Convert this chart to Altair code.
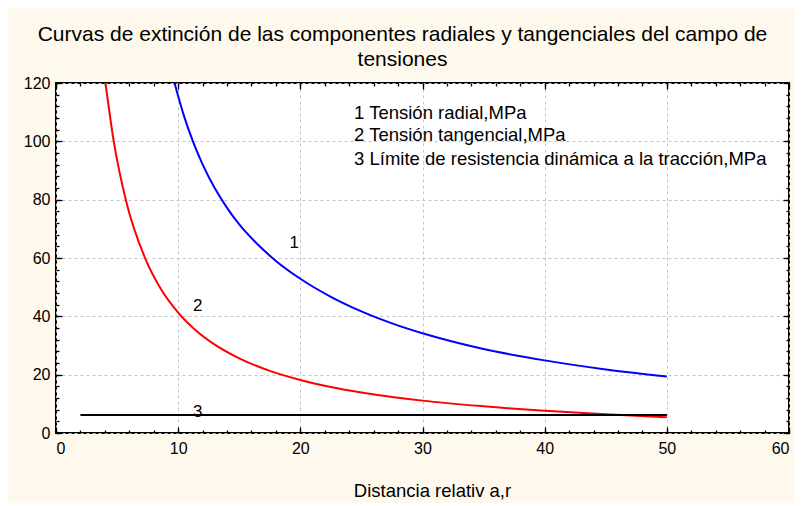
import altair as alt
import pandas as pd

# ---- data ----
blue_x = [9.7, 10.5, 11.2, 12.0, 13.0, 14.0, 15.0, 16.5, 18.0, 20.0, 22.5, 25.0, 27.5, 30.0, 35.0, 40.0, 45.0, 50.0]
blue_y = [120, 108.4, 100.1, 92.1, 83.9, 77.2, 71.5, 64.7, 59.0, 52.9, 46.7, 41.7, 37.6, 34.2, 28.8, 24.9, 21.8, 19.4]

red_x = [4.05, 4.7, 5.8, 7.3, 8.5, 10.0, 11.5, 13.0, 15.0, 17.5, 20.0, 22.5, 25.0, 30.0, 35.0, 40.0, 45.0, 50.0]
red_y = [120, 100.7, 78.5, 59.9, 50.0, 41.3, 35.0, 30.3, 25.6, 21.3, 18.2, 15.8, 13.9, 11.1, 9.15, 7.6, 6.4, 5.4]

black_x = [2, 50]
black_y = [6.2, 6.2]

series_names = ["1", "2", "3"]
series_colors = ["#0000ff", "#ff0000", "#000000"]

curve_label_text = ["1", "2", "3"]
curve_label_x = [19.5, 11.6, 11.6]
curve_label_y = [65, 43.5, 7.3]

legend_lines = [
    "1 Tensión radial,MPa",
    "2 Tensión tangencial,MPa",
    "3  Límite de resistencia dinámica a la tracción,MPa",
]
legend_x = [24.4, 24.4, 24.4]
legend_y = [109.7, 102.3, 94.1]

title_lines = [
    "Curvas de extinción de las componentes radiales y  tangenciales del campo de",
    "tensiones",
]
x_title = "Distancia relativ a,r"

major_x = list(range(0, 61, 10))
minor_x = list(range(0, 61, 2))
major_y = list(range(0, 121, 20))
minor_y = list(range(0, 121, 4))

FONT = "Liberation Sans"

# ---- tables ----
rows = []
for name, xs_, ys_ in zip(series_names, [blue_x, red_x, black_x], [blue_y, red_y, black_y]):
    for i, (a, b) in enumerate(zip(xs_, ys_)):
        rows.append({"serie": name, "r": a, "v": b, "orden": i})
df = pd.DataFrame(rows)

lab_df = pd.DataFrame({"t": curve_label_text, "r": curve_label_x, "v": curve_label_y})
leg_df = pd.DataFrame({"t": legend_lines, "r": legend_x, "v": legend_y})

xs = alt.Scale(domain=[0, 60], nice=False, zero=False)
ys = alt.Scale(domain=[0, 120], nice=False, zero=False)

base = alt.Chart(df)


def tick_axis(orient, values, size):
    return alt.Axis(orient=orient, values=values, tickSize=size, offset=-size,
                    labels=False, domain=False, grid=False, title=None,
                    ticks=True, tickColor="black", tickWidth=1.3)


# axis with labels and grid
lab_layer = base.mark_line(opacity=0).encode(
    x=alt.X("r:Q", scale=xs, axis=alt.Axis(
        orient="bottom", values=major_x, grid=True, gridDash=[3, 3], gridColor="#c4c4c4",
        gridWidth=1, ticks=False, domain=False, labelFont=FONT, labelFontSize=16,
        labelColor="black", labelPadding=7, title=x_title, titleFont=FONT,
        titleFontSize=18.5, titleFontWeight="normal", titleColor="black", titlePadding=25,
        titleX=376, titleAlign="center")),
    y=alt.Y("v:Q", scale=ys, axis=alt.Axis(
        orient="left", values=major_y, grid=True, gridDash=[3, 3], gridColor="#c4c4c4",
        gridWidth=1, ticks=False, domain=False, labelFont=FONT, labelFontSize=16,
        labelColor="black", labelPadding=6, title=None)),
    detail="serie:N",
)

tick_layers = []
for ox, oy, vx, vy, size in [
    ("bottom", "left", major_x, major_y, 6),
    ("bottom", "left", minor_x, minor_y, 3),
    ("top", "right", major_x, major_y, 6),
    ("top", "right", minor_x, minor_y, 3),
]:
    tick_layers.append(base.mark_line(opacity=0).encode(
        x=alt.X("r:Q", scale=xs, axis=tick_axis(ox, vx, size)),
        y=alt.Y("v:Q", scale=ys, axis=tick_axis(oy, vy, size)),
        detail="serie:N",
    ))

lines = base.mark_line(strokeWidth=2, interpolate="monotone").encode(
    x=alt.X("r:Q", scale=xs, axis=None),
    y=alt.Y("v:Q", scale=ys, axis=None),
    color=alt.Color("serie:N", scale=alt.Scale(domain=series_names, range=series_colors), legend=None),
    order="orden:Q",
)

curve_labels = alt.Chart(lab_df).mark_text(font=FONT, fontSize=17, color="black",
                                           align="center", baseline="middle").encode(
    x=alt.X("r:Q", scale=xs, axis=None),
    y=alt.Y("v:Q", scale=ys, axis=None),
    text="t:N",
)

legend_text = alt.Chart(leg_df).mark_text(font=FONT, fontSize=18.5, color="black",
                                          align="left", baseline="middle").encode(
    x=alt.X("r:Q", scale=xs, axis=None),
    y=alt.Y("v:Q", scale=ys, axis=None),
    text="t:N",
)

chart = alt.layer(lab_layer, *tick_layers, lines, curve_labels, legend_text).resolve_axis(
    x="independent", y="independent"
).properties(
    width=733,
    height=350,
    title=alt.Title(text=title_lines, font=FONT, fontSize=21, fontWeight="normal",
                    color="black", lineHeight=25, offset=5, anchor="middle", dx=-20),
    background="#fef9ec",
    padding={"left": 48, "top": 75, "right": 6, "bottom": 70},
    autosize=alt.AutoSizeParams(type="none"),
).configure_view(
    stroke="black", strokeWidth=2, fill="white"
)

chart.save("out.html", embed_options={"renderer": "svg", "actions": False})
